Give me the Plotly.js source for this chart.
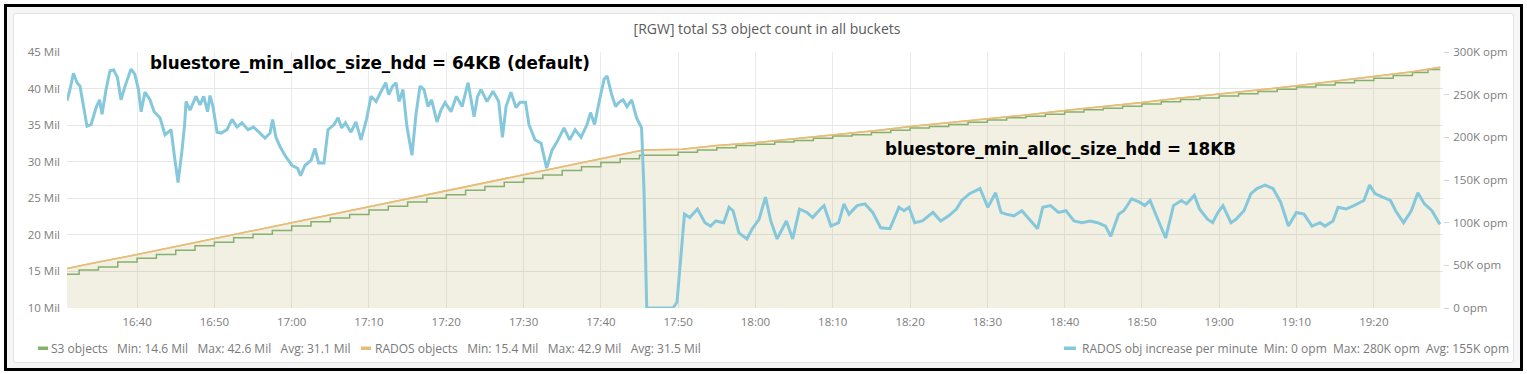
<!DOCTYPE html>
<html>
<head>
<meta charset="utf-8">
<script src="https://cdn.plot.ly/plotly-3.0.1.min.js"></script>
<style>
  html, body { margin:0; padding:0; background:#ffffff; width:1527px; height:374px; overflow:hidden; }
  #frame { position:absolute; left:4px; top:4px; width:1519px; height:367px; box-sizing:border-box;
           border:3px solid #000; background:#f6f6f6; }
  #panel { position:absolute; left:13px; top:13px; width:1501px; height:350px; box-sizing:border-box;
           border:1px solid #e2e2e2; border-radius:3px; background:#ffffff; }
  #chart { position:absolute; left:0; top:0; width:1527px; height:374px; }
</style>
</head>
<body>
<div id="frame"></div>
<div id="panel"></div>
<div id="chart"></div>
<script>
// ---- data (time in minutes after 16:30) ----
const chartTitle = "[RGW] total S3 object count in all buckets";

const radosTimes = [0.94,5,10,15,20,25,30,35,40,45,50,55,60,65,70,75.5,80.5,85,90,95,100,106,110,115,120,125,130,135,140,145,150,155,160,165,170,175,178.6];
const radosMil   = [15.4,16.3,17.3,18.4,19.5,20.6,21.7,22.8,23.9,25.0,26.0,27.1,28.2,29.3,30.4,31.6,31.7,32.2,32.6,33.1,33.7,34.3,34.8,35.3,35.9,36.4,37.0,37.5,38.1,38.7,39.2,39.8,40.4,41.0,41.6,42.3,42.9];

const s3Times = [0.94,2.5,5,7.5,10,12.5,15,17.5,20,22.5,25,27.5,30,32.5,35,37.5,40,42.5,45,47.5,50,52.5,55,57.5,60,62.5,65,67.5,70,72.5,75,80,82.5,85,87.5,90,92.5,95,97.5,100,102.5,105,107.5,110,112.5,115,117.5,120,122.5,125,127.5,130,132.5,135,137.5,140,142.5,145,147.5,150,152.5,155,157.5,160,162.5,165,167.5,170,172.5,175,177,178.6];
const s3Mil   = [14.6,15.2,15.6,16.3,16.8,17.3,17.9,18.5,19.0,19.6,20.1,20.6,21.2,21.8,22.3,22.8,23.4,23.9,24.5,25.0,25.5,26.1,26.6,27.2,27.7,28.2,28.8,29.3,29.9,30.4,30.9,31.3,31.6,31.9,32.2,32.4,32.7,32.9,33.2,33.5,33.7,34.0,34.3,34.6,34.8,35.1,35.4,35.7,36.0,36.2,36.5,36.8,37.1,37.3,37.6,37.9,38.2,38.5,38.7,39.0,39.3,39.6,39.9,40.2,40.5,40.8,41.1,41.4,41.8,42.2,42.6,42.6];

const rateTimes = [
 0.94,1.28,1.77,2.24,2.63,3.01,3.53,4.05,4.70,5.15,
 5.47,5.99,6.51,6.97,7.48,7.93,8.45,9.22,9.70,10.19,
 10.52,11.03,11.68,12.20,12.98,13.62,14.40,14.79,15.30,15.82,
 16.15,16.34,16.86,17.63,18.15,18.63,19.12,19.44,19.83,20.35,
 20.87,21.64,22.29,22.94,23.58,24.36,25.07,25.78,26.56,27.21,
 27.54,27.98,28.50,29.28,30.05,30.76,31.16,31.73,32.51,33.03,
 33.49,34.19,34.71,35.49,36.00,36.47,36.96,37.68,38.33,38.98,
 39.69,40.27,40.92,41.70,42.17,42.56,43.07,43.51,43.90,44.41,
 44.93,45.58,46.09,46.61,47.13,47.65,48.11,48.81,49.33,49.85,
 50.62,51.33,52.05,52.82,53.60,54.06,54.50,55.28,56.06,56.79,
 57.28,57.74,58.38,59.03,59.55,60.26,60.71,61.49,62.27,62.99,
 63.69,64.47,65.24,65.97,66.67,67.44,68.22,68.68,69.19,69.90,
 70.42,70.80,71.41,71.92,72.36,72.87,73.39,73.99,74.63,75.28,
 75.59,75.94,79.34,79.86,80.83,81.50,82.51,83.48,84.21,84.88,
 85.90,86.59,87.10,87.88,88.91,89.61,90.47,91.31,91.99,92.80,
 94.01,94.83,95.71,96.68,97.40,98.41,98.88,99.78,100.78,101.46,
 102.11,103.15,104.18,105.18,106.20,107.41,108.58,109.23,109.87,110.60,
 111.61,112.98,113.98,115.00,116.01,116.69,117.70,119.06,120.07,121.08,
 121.78,122.42,123.46,124.47,125.48,126.50,127.17,128.19,129.20,130.18,
 131.22,132.25,133.29,134.27,135.29,135.97,136.99,137.66,138.67,139.69,
 140.37,141.05,142.06,143.07,144.09,145.10,145.77,146.79,147.46,148.49,
 149.16,149.84,150.49,151.52,152.17,153.21,154.11,154.89,155.92,156.96,
 157.96,158.96,159.99,160.97,162.01,163.04,163.69,164.72,165.37,166.40,
 167.43,168.72,169.45,170.15,171.14,172.16,172.83,173.85,174.86,175.71,
 176.55,177.52,178.56];
const rateK = [
 243,254,275,264,260,241,213,215,235,244,
 227,256,278,279,270,244,260,280,274,256,
 230,253,244,230,223,203,209,181,147,185,
 215,242,232,248,238,248,230,249,236,206,
 205,209,221,212,217,209,212,206,199,205,
 221,200,189,177,167,164,155,167,173,187,
 170,170,209,215,223,211,217,206,218,197,
 221,248,242,256,264,250,260,264,242,256,
 212,179,227,260,256,236,244,218,232,241,
 230,248,236,264,224,248,256,242,254,242,
 200,236,253,235,241,241,215,197,193,164,
 185,197,211,197,209,200,215,229,215,247,
 268,272,250,236,241,244,236,244,223,211,
 138,0,0,7,110,106,116,100,96,102,
 100,118,114,88,81,93,104,130,102,81,
 102,81,116,112,106,116,120,96,100,122,
 110,120,122,112,94,93,118,114,118,100,
 102,112,102,108,116,126,134,140,118,135,
 112,110,108,114,104,93,118,120,112,114,
 102,100,102,100,96,84,110,114,128,124,
 120,126,104,82,120,126,122,132,116,104,
 100,112,120,100,104,114,134,140,144,140,
 124,96,112,110,96,100,96,102,118,116,
 120,126,144,134,130,126,114,100,114,135,
 122,114,98];

const leftTickVals = [10,15,20,25,30,35,40,45];
const leftTickText = ["10 Mil","15 Mil","20 Mil","25 Mil","30 Mil","35 Mil","40 Mil","45 Mil"];
const rightTickVals = [0,50,100,150,200,250,300];
const rightTickText = ["0 opm","50K opm","100K opm","150K opm","200K opm","250K opm","300K opm"];

const noteLeft = "bluestore_min_alloc_size_hdd = 64KB (default)";
const noteRight = "bluestore_min_alloc_size_hdd = 18KB";

const gap = "\u00a0\u00a0\u00a0";
const gap2 = "\u00a0\u00a0";
const legendS3 = "S3 objects" + gap + "Min: 14.6 Mil" + gap + "Max: 42.6 Mil" + gap + "Avg: 31.1 Mil";
const legendRados = "RADOS objects" + gap + "Min: 15.4 Mil" + gap + "Max: 42.9 Mil" + gap + "Avg: 31.5 Mil";
const legendRate = "RADOS obj increase per minute" + gap2 + "Min: 0 opm" + gap2 + "Max: 280K opm" + gap2 + "Avg: 155K opm";

// ---- helpers ----
function t2d(m) {
  const ms = Date.UTC(2023, 0, 1, 16, 30, 0) + Math.round(m * 60000);
  return new Date(ms).toISOString().replace('T', ' ').slice(0, 19);
}
const W = 1527, H = 374, L = 67, R = 1443, T = 52, B = 308;
const px2x = p => (p - L) / (R - L);
const py2y = p => (B - p) / (B - T);

const cGreen = '#87b06e', cOrange = '#e6bd78', cBlue = '#86c8db';

const traces = [
  { x: radosTimes.map(t2d), y: radosMil, type: 'scatter', mode: 'lines', yaxis: 'y',
    line: { color: cOrange, width: 1.5 }, fill: 'tozeroy', fillcolor: 'rgba(165,150,60,0.14)', hoverinfo: 'skip' },
  { x: s3Times.map(t2d), y: s3Mil, type: 'scatter', mode: 'lines', yaxis: 'y',
    line: { color: cGreen, width: 1.5, shape: 'hv' }, hoverinfo: 'skip' },
  { x: radosTimes.map(t2d), y: radosMil, type: 'scatter', mode: 'lines', yaxis: 'y',
    line: { color: cOrange, width: 1.5 }, hoverinfo: 'skip' },
  { x: rateTimes.map(t2d), y: rateK, type: 'scatter', mode: 'lines', yaxis: 'y2',
    line: { color: cBlue, width: 3 }, hoverinfo: 'skip' }
];

const tickFont = { family: 'Open Sans, sans-serif', size: 11.5, color: '#7d7d7d' };
const legFont = { family: 'Open Sans, sans-serif', size: 12, color: '#7a7a7a' };
const noteFont = { family: 'DejaVu Sans, sans-serif', size: 16.8, color: '#000000' };

const layout = {
  width: W, height: H,
  margin: { l: L, r: W - R, t: T, b: H - B, pad: 0 },
  paper_bgcolor: 'rgba(0,0,0,0)', plot_bgcolor: 'rgba(0,0,0,0)',
  showlegend: false,
  title: { text: chartTitle, x: 767 / W, xref: 'container', xanchor: 'center',
           y: 1 - 29 / H, yref: 'container', yanchor: 'middle',
           font: { family: 'Open Sans, sans-serif', size: 14, color: '#5a5a5a' } },
  xaxis: { type: 'date', range: [t2d(0.94), t2d(178.95)], tickformat: '%H:%M',
           tick0: t2d(10), dtick: 600000, showgrid: true, gridcolor: '#ebebeb', gridwidth: 1,
           ticks: '', tickfont: tickFont, zeroline: false, showline: false, fixedrange: true,
           ticklabelstandoff: 5 },
  yaxis: { range: [10, 45], tickvals: leftTickVals, ticktext: leftTickText, showgrid: true,
           gridcolor: '#e6e6e6', ticks: '', tickfont: tickFont, zeroline: false, showline: false,
           ticklabelstandoff: 6, fixedrange: true },
  yaxis2: { range: [0, 300], overlaying: 'y', side: 'right', tickvals: rightTickVals, ticktext: rightTickText,
            showgrid: false, ticks: 'outside', ticklen: 5, tickcolor: '#d3d3d3', tickfont: tickFont,
            zeroline: false, showline: false, fixedrange: true, ticklabelstandoff: 2 },
  annotations: [
    { text: '<b>' + noteLeft + '</b>', xref: 'paper', yref: 'paper', x: px2x(148), y: py2y(63),
      xanchor: 'left', yanchor: 'middle', showarrow: false, font: noteFont },
    { text: '<b>' + noteRight + '</b>', xref: 'paper', yref: 'paper', x: px2x(883), y: py2y(149),
      xanchor: 'left', yanchor: 'middle', showarrow: false, font: noteFont },
    { text: legendS3, xref: 'paper', yref: 'paper', x: px2x(49), y: py2y(348.5),
      xanchor: 'left', yanchor: 'middle', showarrow: false, font: legFont },
    { text: legendRados, xref: 'paper', yref: 'paper', x: px2x(373), y: py2y(348.5),
      xanchor: 'left', yanchor: 'middle', showarrow: false, font: legFont },
    { text: legendRate, xref: 'paper', yref: 'paper', x: px2x(1080), y: py2y(348.5),
      xanchor: 'left', yanchor: 'middle', showarrow: false, font: legFont }
  ],
  shapes: [
    { type: 'rect', xref: 'paper', yref: 'paper', x0: px2x(38), x1: px2x(48), y0: py2y(350), y1: py2y(346.5),
      fillcolor: cGreen, line: { width: 0 }, layer: 'above' },
    { type: 'rect', xref: 'paper', yref: 'paper', x0: px2x(361), x1: px2x(371), y0: py2y(350), y1: py2y(346.5),
      fillcolor: cOrange, line: { width: 0 }, layer: 'above' },
    { type: 'rect', xref: 'paper', yref: 'paper', x0: px2x(1064), x1: px2x(1076), y0: py2y(350), y1: py2y(346.5),
      fillcolor: cBlue, line: { width: 0 }, layer: 'above' }
  ]
};

Plotly.newPlot('chart', traces, layout, { staticPlot: true, displayModeBar: false });
</script>
</body>
</html>
